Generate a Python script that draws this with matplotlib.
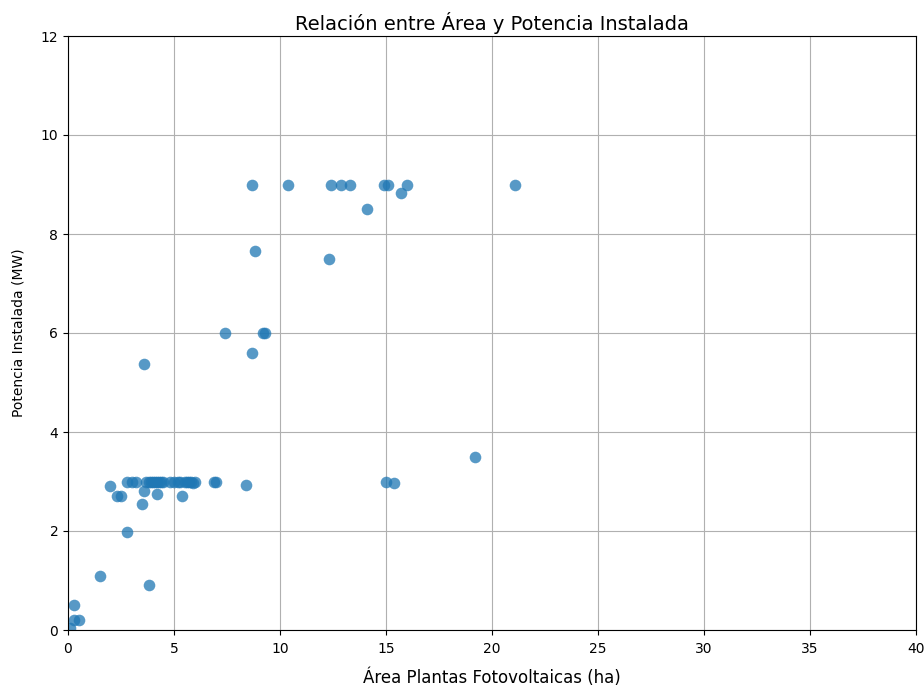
import numpy as np
import matplotlib
matplotlib.use("Agg", force=True)
import matplotlib.pyplot as plt

# Area (ha) and installed power (MW)
area_ha = [
    0.1, 0.3, 0.3, 0.5, 1.5, 3.8, 2.8, 2.0, 2.3, 2.5, 3.5, 3.6, 4.2, 5.4,
    2.8, 3.0, 3.2, 3.7, 3.8, 3.9, 4.0, 4.1, 4.2, 4.3, 4.4, 4.5, 4.8, 5.0,
    5.2, 5.3, 5.5, 5.6, 5.7, 5.8, 5.9, 6.0, 6.9, 7.0, 8.4,
    3.6, 7.4, 8.7, 9.2, 9.3, 8.8, 12.3,
    8.7, 10.4, 12.4, 12.9, 13.3, 14.1, 14.9, 15.1, 15.7, 16.0, 21.1,
    15.0, 15.4, 19.2,
]
potencia_mw = [
    0.05, 0.5, 0.2, 0.2, 1.1, 0.9, 1.97, 2.9, 2.7, 2.7, 2.55, 2.8, 2.75, 2.7,
    3.0, 3.0, 3.0, 3.0, 3.0, 3.0, 3.0, 3.0, 3.0, 3.0, 3.0, 3.0, 3.0, 3.0,
    3.0, 3.0, 3.0, 3.0, 3.0, 2.98, 2.97, 2.98, 2.98, 3.0, 2.93,
    5.37, 6.0, 5.6, 6.0, 6.0, 7.65, 7.5,
    9.0, 9.0, 9.0, 9.0, 9.0, 8.5, 9.0, 9.0, 8.83, 9.0, 9.0,
    3.0, 2.97, 3.5,
]

fig = plt.figure(figsize=(9.24, 6.86), dpi=100)
ax = fig.add_axes([68 / 924, 1 - 630 / 686, 848 / 924, 594 / 686])
ax.scatter(area_ha, potencia_mw, s=70, color="#1f77b4", alpha=0.75, linewidths=0)
ax.set_xlim(0, 40)
ax.set_ylim(0, 12)
ax.grid(True)
ax.set_axisbelow(True)
ax.tick_params(axis="x", pad=5)
ax.set_title("Relación entre Área y Potencia Instalada", fontsize=14, pad=4)
ax.set_xlabel("Área Plantas Fotovoltaicas (ha)", fontsize=12, labelpad=9)
ax.set_ylabel("Potencia Instalada (MW)", fontsize=10, labelpad=11)

fig.savefig("out.png", dpi=100)
plt.close(fig)
